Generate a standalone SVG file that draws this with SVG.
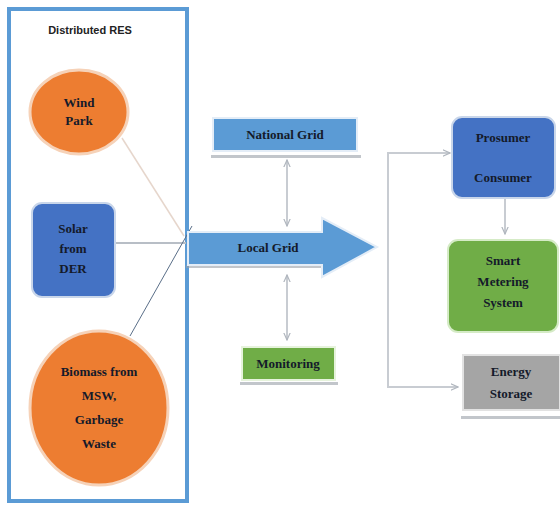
<svg xmlns="http://www.w3.org/2000/svg" width="560" height="507" viewBox="0 0 560 507">
<defs>
<style>
.t{font-family:"Liberation Serif","Times New Roman","DejaVu Serif",serif;font-weight:bold;font-size:13px;fill:#141a2a;text-anchor:middle}
.h{font-family:"Liberation Sans",Arial,sans-serif;font-weight:bold;font-size:11px;fill:#222;text-anchor:middle}
.c{fill:none;stroke:#c8ccd2;stroke-width:2}
.sh{fill:#9aa0a8;opacity:0.6}
</style>
<marker id="ah" viewBox="0 0 10 10" refX="9" refY="5" markerWidth="4" markerHeight="4" orient="auto-start-reverse"><path d="M0,1 L9,5 L0,9" fill="none" stroke="#b0b6be" stroke-width="1.5"/></marker>
</defs>
<rect width="560" height="507" fill="#fff"/>
<g id="res-box">
<rect x="9" y="9" width="178" height="492" fill="#fff" stroke="#5b9bd5" stroke-width="4"/>
<text class="h" x="90" y="34">Distributed RES</text>
</g>
<g id="connectors">
<line x1="122" y1="138" x2="184" y2="236" stroke="#e6d6cc" stroke-width="1.5"/>
<line x1="115" y1="243" x2="186" y2="243" stroke="#b8bec6" stroke-width="2"/>
<line x1="130" y1="336" x2="192" y2="226" stroke="#5a6e88" stroke-width="1"/>
<line class="c" x1="287" y1="160" x2="287" y2="226" marker-start="url(#ah)" marker-end="url(#ah)"/>
<line class="c" x1="287" y1="275" x2="287" y2="340" marker-start="url(#ah)" marker-end="url(#ah)"/>
<polyline class="c" points="450,153 388,153 388,387 458,387" marker-start="url(#ah)" marker-end="url(#ah)"/>
<line class="c" x1="505" y1="199" x2="505" y2="234" marker-end="url(#ah)"/>
</g>
<g id="wind-park">
<ellipse cx="79" cy="112" rx="49" ry="42" fill="#ed7d31" stroke="#f6d2b8" stroke-width="3"/>
<text class="t" x="79" y="107">Wind</text>
<text class="t" x="79" y="125">Park</text>
</g>
<g id="solar">
<rect x="32" y="203" width="83" height="94" rx="10" fill="#4472c4" stroke="#c9d6ea" stroke-width="2"/>
<text class="t" x="73" y="233">Solar</text>
<text class="t" x="73" y="253">from</text>
<text class="t" x="73" y="273">DER</text>
</g>
<g id="biomass">
<ellipse cx="99" cy="408" rx="69" ry="77" fill="#ed7d31" stroke="#f6d2b8" stroke-width="3"/>
<text class="t" x="99" y="376">Biomass from</text>
<text class="t" x="99" y="400">MSW,</text>
<text class="t" x="99" y="424">Garbage</text>
<text class="t" x="99" y="448">Waste</text>
</g>
<g id="national-grid">
<rect x="211" y="155" width="150" height="3" class="sh"/>
<rect x="213" y="118" width="144" height="33" fill="#5b9bd5" stroke="#e4edf7" stroke-width="2"/>
<text class="t" x="285" y="139">National Grid</text>
</g>
<g id="local-grid">
<rect x="186" y="265" width="150" height="3" class="sh"/>
<polygon points="188,232 322,232 322,218 377,247 322,277 322,265 188,265" fill="#5b9bd5" stroke="#e4edf7" stroke-width="2"/>
<text class="t" x="268" y="252">Local Grid</text>
</g>
<g id="monitoring">
<rect x="240" y="382" width="98" height="3" class="sh"/>
<rect x="242" y="347" width="93" height="33" fill="#70ad47" stroke="#e6f3dc" stroke-width="2"/>
<text class="t" x="288" y="368">Monitoring</text>
</g>
<g id="prosumer">
<rect x="452" y="117" width="103" height="81" rx="10" fill="#4472c4" stroke="#c9d6ea" stroke-width="2"/>
<text class="t" x="503" y="142">Prosumer</text>
<text class="t" x="503" y="182">Consumer</text>
</g>
<g id="smart-metering">
<rect x="448" y="240" width="110" height="92" rx="10" fill="#70ad47" stroke="#d5ebc6" stroke-width="2"/>
<text class="t" x="503" y="265">Smart</text>
<text class="t" x="503" y="286">Metering</text>
<text class="t" x="503" y="307">System</text>
</g>
<g id="energy-storage">
<rect x="461" y="416" width="99" height="3" class="sh"/>
<rect x="463" y="355" width="97" height="55" fill="#a5a5a5" stroke="#e2e2e2" stroke-width="2"/>
<text class="t" x="511" y="376">Energy</text>
<text class="t" x="511" y="398">Storage</text>
</g>
</svg>
